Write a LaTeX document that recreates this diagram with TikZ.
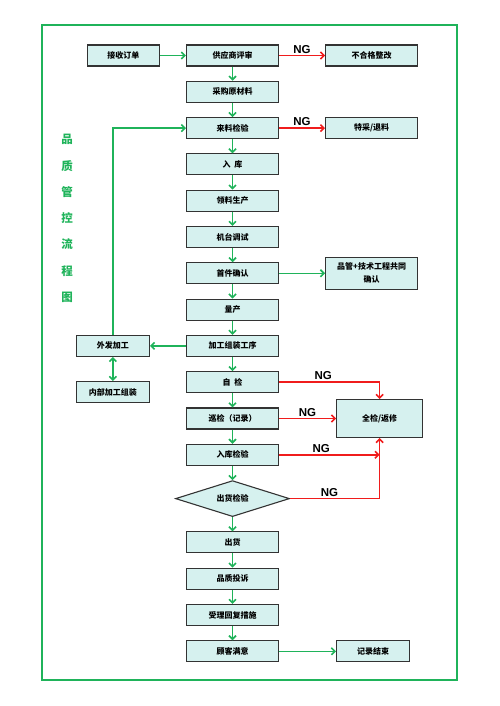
\documentclass[tikz,border=0pt]{standalone}
\usepackage{fontspec}
\newfontfamily\cjk{Noto Sans CJK SC}
\newfontfamily\ngfont{Liberation Sans}
\usetikzlibrary{positioning, shapes.geometric, arrows.meta}
\definecolor{qcgreen}{HTML}{1FB35A}
\definecolor{qcred}{HTML}{F01C1C}
\definecolor{qcfill}{HTML}{D6F1EF}
\definecolor{qcborder}{HTML}{333333}

\begin{document}
\begin{tikzpicture}[
		x=1pt, y=-1pt,
		node distance=14.2pt and 46pt,
		proc/.style={draw=qcborder, line width=1.1pt, fill=qcfill, minimum width=92pt, minimum height=21pt, inner sep=1pt, align=center, font=\cjk\bfseries\fontsize{8}{13}\selectfont},
		check/.style={proc, diamond, aspect=3.1, minimum width=114pt, minimum height=36pt, inner sep=0pt},
		go/.style={->, draw=qcgreen, line width=1.6pt},
		ng/.style={->, draw=qcred, line width=1.6pt},
		nglabel/.style={above, inner sep=1.5pt, text=black, font=\ngfont\bfseries\fontsize{11.5}{11.5}\selectfont},
		>={Straight Barb[length=3.5pt, width=7pt]}
		]
		\useasboundingbox (0,0) rectangle (500,706);
		% frame and side title
		\draw[qcgreen, line width=1.8pt] (42,25) rectangle (457,680);
		\node[text=qcgreen, align=center, font=\cjk\bfseries\fontsize{11.5}{26.3}\selectfont] (title) at (67,218.5) {品\\质\\管\\控\\流\\程\\图};
		
		% main column
		\node[proc] (review) at (232.5,55.5) {供应商评审};
		\node[proc, below=of review] (purchase) {采购原材料};
		\node[proc, below=of purchase] (incoming) {来料检验};
		\node[proc, below=of incoming] (storage) {入\ \ 库};
		\node[proc, below=of storage] (pick) {领料生产};
		\node[proc, below=of pick] (setup) {机台调试};
		\node[proc, below=of setup] (firstpiece) {首件确认};
		\node[proc, below=of firstpiece] (mass) {量产};
		\node[proc, below=of mass] (assembly) {加工组装工序};
		\node[proc, below=of assembly] (selfcheck) {自\ \ 检};
		\node[proc, below=of selfcheck] (patrol) {巡检（记录）};
		\node[proc, below=of patrol] (storecheck) {入库检验};
		\node[check, below=of storecheck] (shipcheck) {出货检验};
		\node[proc, below=of shipcheck] (ship) {出货};
		\node[proc, below=of ship] (complaint) {品质投诉};
		\node[proc, below=of complaint] (reply) {受理回复措施};
		\node[proc, below=of reply] (satisfied) {顾客满意};
		
		% side boxes
		\node[proc, minimum width=72pt, left=26pt of review] (order) {接收订单};
		\node[proc, right=of review] (rework) {不合格整改};
		\node[proc, right=of incoming] (special) {特采/退料};
		\node[proc, minimum height=32pt, right=of firstpiece] (confirm) {品管+技术工程共同\\确认};
		\node[proc, minimum width=73pt, left=36pt of assembly] (outsource) {外发加工};
		\node[proc, minimum width=73pt, below=24pt of outsource] (internal) {内部加工组装};
		\node[proc, minimum width=86pt, minimum height=38pt, right=57pt of patrol] (fullcheck) {全检/返修};
		\node[proc, minimum width=73pt, right=57pt of satisfied] (record) {记录结束};
		
		% connectors
		\foreach \a/\b in {review/purchase, purchase/incoming, incoming/storage, storage/pick, pick/setup, setup/firstpiece, firstpiece/mass, mass/assembly, assembly/selfcheck, selfcheck/patrol, patrol/storecheck, storecheck/shipcheck, shipcheck/ship, ship/complaint, complaint/reply, reply/satisfied}
			\draw[go] (\a) -- (\b);
		\draw[go] (order) -- (review);
		\draw[go] (firstpiece) -- (confirm);
		\draw[go] (assembly) -- (outsource);
		\draw[go, <->] (outsource) -- (internal);
		\draw[go] (outsource.north) |- (incoming.west);
		\draw[go] (satisfied) -- (record);
		
		\draw[ng] (review) -- node[nglabel] {NG} (rework);
		\draw[ng] (incoming) -- node[nglabel] {NG} (special);
		\draw[ng] (selfcheck.east) -| node[nglabel, pos=0.22] {NG} (fullcheck.north);
		\draw[ng] (patrol) -- node[nglabel] {NG} (fullcheck);
		\draw[ng] (storecheck.east) -- node[nglabel, pos=0.42] {NG} (storecheck.east -| fullcheck.south);
		\draw[ng] (shipcheck.east) -| node[nglabel, pos=0.22] {NG} (fullcheck.south);
	\end{tikzpicture}
\end{document}
